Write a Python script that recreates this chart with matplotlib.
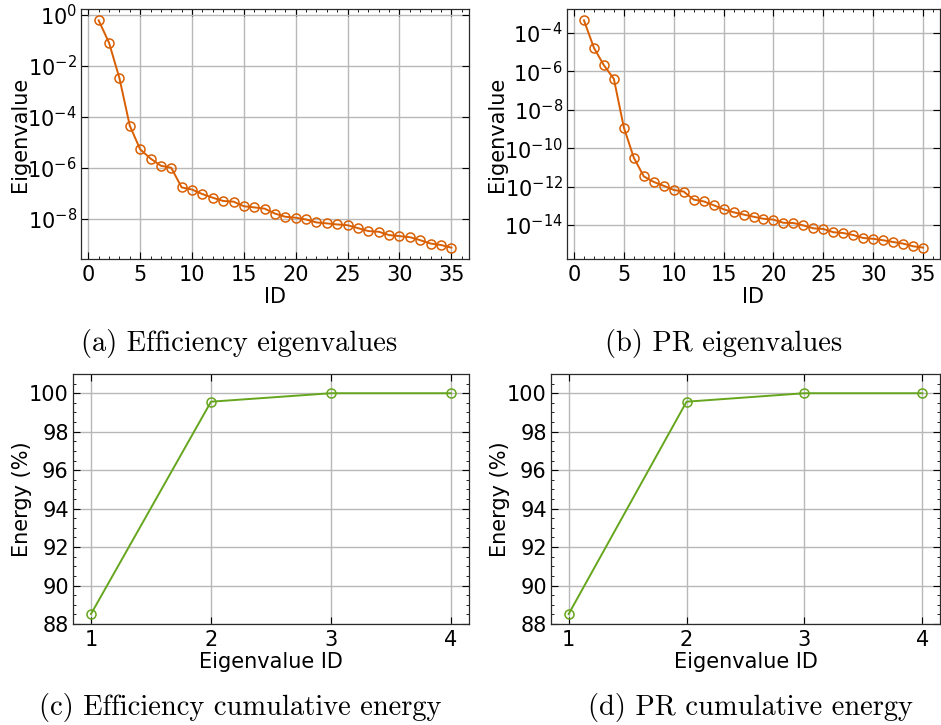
import matplotlib
matplotlib.use('Agg')
from matplotlib import pyplot as plt
from matplotlib.ticker import AutoMinorLocator, NullLocator

ids = list(range(1, 36))

eff_eig = [6.0e-1, 8.0e-2, 3.3e-3, 4.5e-5, 5.3e-6, 2.3e-6, 1.2e-6, 1.0e-6,
           1.7e-7, 1.4e-7, 9.3e-8, 6.7e-8, 5.0e-8, 4.7e-8, 3.1e-8, 2.8e-8,
           2.5e-8, 1.6e-8, 1.2e-8, 1.1e-8, 9.4e-9, 7.2e-9, 6.6e-9, 6.0e-9,
           5.6e-9, 4.3e-9, 3.3e-9, 3.1e-9, 2.3e-9, 2.1e-9, 1.9e-9, 1.45e-9,
           1.07e-9, 9.4e-10, 7.4e-10]

pr_eig = [4.6e-4, 1.7e-5, 2.1e-6, 4.1e-7, 1.2e-9, 3.2e-11, 3.4e-12, 1.75e-12,
          1.1e-12, 6.7e-13, 5.5e-13, 2.1e-13, 1.7e-13, 1.07e-13, 6.6e-14,
          4.6e-14, 3.5e-14, 2.7e-14, 2.1e-14, 1.9e-14, 1.3e-14, 1.27e-14,
          9.5e-15, 6.7e-15, 6.2e-15, 4.2e-15, 3.8e-15, 3.0e-15, 2.1e-15,
          1.9e-15, 1.6e-15, 1.3e-15, 1.07e-15, 7.8e-16, 6.6e-16]

eff_ticks = [1e0, 1e-2, 1e-4, 1e-6, 1e-8]
pr_ticks = [1e-4, 1e-6, 1e-8, 1e-10, 1e-12, 1e-14]

energy_ids = [1, 2, 3, 4]
eff_energy = [88.52, 99.56, 100.0, 100.0]
pr_energy = [88.52, 99.56, 100.0, 100.0]

captions = ['(a) Efficiency eigenvalues', '(b) PR eigenvalues',
            '(c) Efficiency cumulative energy', '(d) PR cumulative energy']

orange = '#d95f02'
green = '#66a61e'

plt.rcParams.update({
    'font.size': 15,
    'xtick.direction': 'in',
    'ytick.direction': 'in',
    'xtick.top': True,
    'ytick.right': True,
    'xtick.minor.visible': True,
    'ytick.minor.visible': True,
    'xtick.major.size': 5,
    'ytick.major.size': 5,
    'xtick.minor.size': 2.5,
    'ytick.minor.size': 2.5,
    'xtick.major.pad': 4,
    'ytick.major.pad': 3,
    'axes.edgecolor': '#2a2a2a',
    'axes.linewidth': 0.9,
    'grid.color': '#b8b8b8',
    'grid.linewidth': 1.0,
})

W, H = 941, 725
fig = plt.figure(figsize=(W / 100, H / 100), dpi=100)


def add_axes(left, right, top, bottom):
    return fig.add_axes([left / W, 1 - bottom / H, (right - left) / W, (bottom - top) / H])


ax_a = add_axes(81, 469, 9, 259)
ax_b = add_axes(567, 940, 9, 259)
ax_c = add_axes(73, 469, 374, 624)
ax_d = add_axes(551, 940, 374, 624)

for ax, vals, yt in [(ax_a, eff_eig, eff_ticks), (ax_b, pr_eig, pr_ticks)]:
    ax.plot(ids, vals, color=orange, lw=1.4, marker='o', ms=6.5,
            mfc='none', mew=1.1)
    ax.set_yscale('log')
    ax.set_yticks(yt)
    ax.yaxis.set_minor_locator(NullLocator())
    ax.set_xticks([0, 5, 10, 15, 20, 25, 30, 35])
    ax.xaxis.set_minor_locator(AutoMinorLocator(5))
    ax.set_xlabel('ID', labelpad=2)
    ax.set_ylabel('Eigenvalue', labelpad=-2)
    ax.grid(True)

for ax, vals in [(ax_c, eff_energy), (ax_d, pr_energy)]:
    ax.plot(energy_ids, vals, color=green, lw=1.4, marker='o', ms=6.5,
            mfc='none', mew=1.1)
    ax.set_xticks(energy_ids)
    ax.xaxis.set_minor_locator(NullLocator())
    ax.set_ylim(88, 101)
    ax.set_yticks([88, 90, 92, 94, 96, 98, 100])
    ax.yaxis.set_minor_locator(AutoMinorLocator(4))
    ax.set_xlabel('Eigenvalue ID', labelpad=2)
    ax.set_ylabel('Energy (%)', labelpad=-2)
    ax.grid(True)

# subfigure captions in Computer Modern
cap_pos = [(239, 343), (724, 343), (240, 708), (750, 708)]
for text, (x, y) in zip(captions, cap_pos):
    fig.text(x / W, 1 - y / H, text, family='cmr10', fontsize=20.5,
             ha='center', va='center')

fig.savefig('out.png', dpi=100)
